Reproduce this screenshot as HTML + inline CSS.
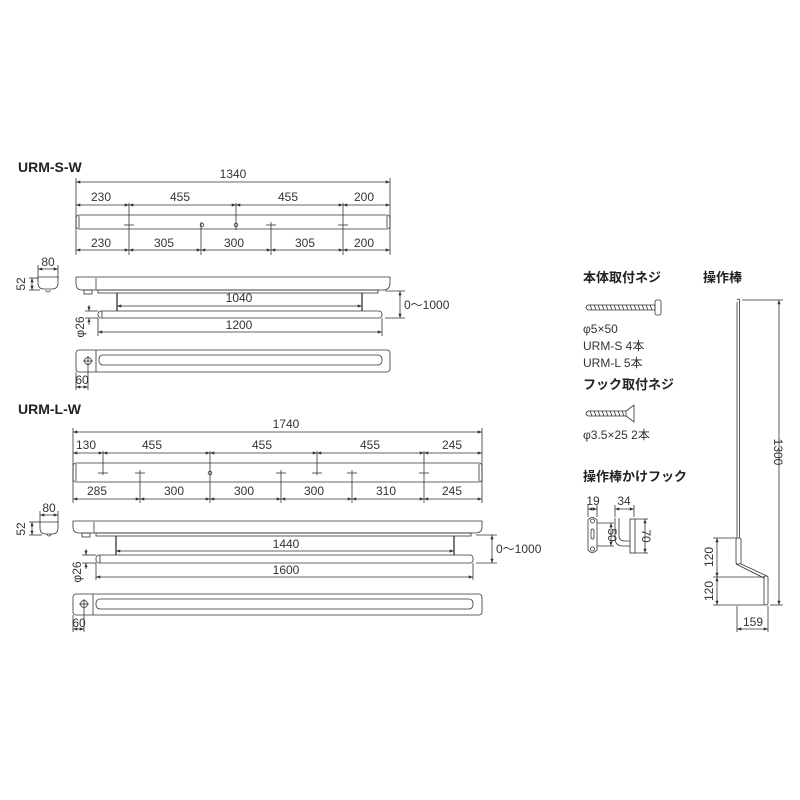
<!DOCTYPE html>
<html><head><meta charset="utf-8"><style>
html,body{margin:0;padding:0;background:#fff}
svg{display:block}
text{font-family:"Liberation Sans","Noto Sans CJK JP",sans-serif;fill:#333;font-size:12px}
.t{font-size:14px;font-weight:bold;fill:#222}
.j{font-size:13px;font-weight:bold;fill:#222}
</style></head><body>
<svg width="800" height="800" viewBox="0 0 800 800" xmlns="http://www.w3.org/2000/svg">
<defs>
<marker id="a" viewBox="0 0 8 6" refX="8" refY="3" markerWidth="6" markerHeight="4" orient="auto-start-reverse"><path d="M0,0L8,3L0,6z" fill="#333"/></marker>
</defs>
<g stroke="#333" stroke-width="0.8" fill="none">
<line x1="76" y1="182" x2="390" y2="182" marker-start="url(#a)" marker-end="url(#a)"/>
<line x1="76" y1="178" x2="76" y2="255"/><line x1="390" y1="178" x2="390" y2="255"/>
<line x1="76" y1="205" x2="129" y2="205" marker-start="url(#a)" marker-end="url(#a)"/>
<line x1="129" y1="205" x2="236" y2="205" marker-start="url(#a)" marker-end="url(#a)"/>
<line x1="236" y1="205" x2="343" y2="205" marker-start="url(#a)" marker-end="url(#a)"/>
<line x1="343" y1="205" x2="390" y2="205" marker-start="url(#a)" marker-end="url(#a)"/>
<line x1="129" y1="203" x2="129" y2="255"/><line x1="236" y1="203" x2="236" y2="230"/><line x1="343" y1="203" x2="343" y2="255"/>
<line x1="201" y1="222" x2="201" y2="255"/><line x1="271" y1="222" x2="271" y2="255"/>
<rect x="76" y="215" width="314" height="14" rx="3"/>
<line x1="79" y1="216" x2="79" y2="228"/><line x1="387" y1="216" x2="387" y2="228"/>
<line x1="124" y1="225" x2="134" y2="225"/><line x1="266" y1="225" x2="276" y2="225"/><line x1="338" y1="225" x2="348" y2="225"/>
<circle cx="202" cy="225" r="1.8"/><circle cx="236" cy="225" r="1.8"/>
<line x1="76" y1="250" x2="129" y2="250" marker-start="url(#a)" marker-end="url(#a)"/>
<line x1="129" y1="250" x2="201" y2="250" marker-start="url(#a)" marker-end="url(#a)"/>
<line x1="201" y1="250" x2="271" y2="250" marker-start="url(#a)" marker-end="url(#a)"/>
<line x1="271" y1="250" x2="343" y2="250" marker-start="url(#a)" marker-end="url(#a)"/>
<line x1="343" y1="250" x2="390" y2="250" marker-start="url(#a)" marker-end="url(#a)"/>
<line x1="38" y1="269" x2="58" y2="269" marker-start="url(#a)" marker-end="url(#a)"/>
<line x1="38" y1="265" x2="38" y2="279"/><line x1="58" y1="265" x2="58" y2="279"/>
<path d="M38,277 H58 V283 Q58,289 52,289 H44 Q38,289 38,283 Z"/>
<line x1="29" y1="278" x2="38" y2="278"/><line x1="29" y1="290" x2="40" y2="290"/>
<line x1="32" y1="278" x2="32" y2="290" marker-start="url(#a)" marker-end="url(#a)"/>
<path d="M46,290 a2,2 0 0 0 4,0"/>
<path d="M76,277 H390 V283 Q390,290 383,290 H82 Q76,290 76,283 Z"/>
<line x1="96" y1="278" x2="96" y2="290"/>
<rect x="84" y="290" width="8" height="4"/>
<rect x="98" y="290" width="280" height="3"/>
<line x1="117" y1="293" x2="117" y2="311" stroke-width="1.3"/><line x1="362" y1="293" x2="362" y2="311" stroke-width="1.3"/>
<line x1="117" y1="306" x2="362" y2="306" marker-start="url(#a)" marker-end="url(#a)"/>
<rect x="98" y="311" width="284" height="7" rx="3"/>
<line x1="102" y1="311" x2="102" y2="318"/>
<line x1="98" y1="318" x2="98" y2="336"/><line x1="382" y1="318" x2="382" y2="336"/>
<line x1="98" y1="332" x2="382" y2="332" marker-start="url(#a)" marker-end="url(#a)"/>
<line x1="385" y1="291" x2="405" y2="291"/><line x1="385" y1="318" x2="405" y2="318"/>
<line x1="400" y1="291" x2="400" y2="318" marker-start="url(#a)" marker-end="url(#a)"/>
<line x1="85" y1="311" x2="98" y2="311"/><line x1="85" y1="318" x2="98" y2="318"/>
<line x1="89" y1="305" x2="89" y2="311" marker-end="url(#a)"/><line x1="89" y1="325" x2="89" y2="318" marker-end="url(#a)"/>
<rect x="76" y="350" width="314" height="22" rx="3"/>
<line x1="96" y1="350" x2="96" y2="372"/>
<circle cx="88" cy="361" r="3.5"/><line x1="83" y1="361" x2="93" y2="361"/><line x1="88" y1="356" x2="88" y2="366"/>
<rect x="99" y="355" width="283" height="10" rx="4"/>
<line x1="76" y1="372" x2="76" y2="390"/><line x1="88" y1="365" x2="88" y2="390"/>
<line x1="76" y1="387" x2="88" y2="387" marker-start="url(#a)" marker-end="url(#a)"/>

<line x1="73" y1="432" x2="482" y2="432" marker-start="url(#a)" marker-end="url(#a)"/>
<line x1="73" y1="428" x2="73" y2="503"/><line x1="482" y1="428" x2="482" y2="503"/>
<line x1="73" y1="453" x2="103" y2="453" marker-start="url(#a)" marker-end="url(#a)"/>
<line x1="103" y1="453" x2="210" y2="453" marker-start="url(#a)" marker-end="url(#a)"/>
<line x1="210" y1="453" x2="317" y2="453" marker-start="url(#a)" marker-end="url(#a)"/>
<line x1="317" y1="453" x2="424" y2="453" marker-start="url(#a)" marker-end="url(#a)"/>
<line x1="424" y1="453" x2="482" y2="453" marker-start="url(#a)" marker-end="url(#a)"/>
<line x1="103" y1="451" x2="103" y2="475"/><line x1="210" y1="451" x2="210" y2="503"/><line x1="317" y1="451" x2="317" y2="475"/><line x1="424" y1="451" x2="424" y2="503"/>
<line x1="140" y1="470" x2="140" y2="503"/><line x1="281" y1="470" x2="281" y2="503"/><line x1="352" y1="470" x2="352" y2="503"/>
<rect x="73" y="463" width="409" height="19" rx="3"/>
<line x1="76" y1="464" x2="76" y2="481"/><line x1="479" y1="464" x2="479" y2="481"/>
<line x1="98" y1="473" x2="108" y2="473"/><line x1="135" y1="473" x2="145" y2="473"/><line x1="276" y1="473" x2="286" y2="473"/><line x1="312" y1="473" x2="322" y2="473"/><line x1="347" y1="473" x2="357" y2="473"/><line x1="419" y1="473" x2="429" y2="473"/>
<circle cx="210" cy="473" r="1.8"/>
<line x1="73" y1="499" x2="140" y2="499" marker-start="url(#a)" marker-end="url(#a)"/>
<line x1="140" y1="499" x2="210" y2="499" marker-start="url(#a)" marker-end="url(#a)"/>
<line x1="210" y1="499" x2="281" y2="499" marker-start="url(#a)" marker-end="url(#a)"/>
<line x1="281" y1="499" x2="352" y2="499" marker-start="url(#a)" marker-end="url(#a)"/>
<line x1="352" y1="499" x2="424" y2="499" marker-start="url(#a)" marker-end="url(#a)"/>
<line x1="424" y1="499" x2="482" y2="499" marker-start="url(#a)" marker-end="url(#a)"/>
<line x1="40" y1="515" x2="58" y2="515" marker-start="url(#a)" marker-end="url(#a)"/>
<line x1="40" y1="511" x2="40" y2="523"/><line x1="58" y1="511" x2="58" y2="523"/>
<path d="M40,522 H58 V528 Q58,534 52,534 H46 Q40,534 40,528 Z"/>
<line x1="29" y1="522" x2="40" y2="522"/><line x1="29" y1="535" x2="42" y2="535"/>
<line x1="32" y1="522" x2="32" y2="535" marker-start="url(#a)" marker-end="url(#a)"/>
<path d="M47,534 a2,2 0 0 0 4,0"/>
<path d="M73,521 H482 V527 Q482,533 475,533 H79 Q73,533 73,527 Z"/>
<line x1="94" y1="522" x2="94" y2="533"/>
<rect x="82" y="533" width="8" height="4"/>
<rect x="96" y="533" width="375" height="3"/>
<line x1="116" y1="536" x2="116" y2="555" stroke-width="1.3"/><line x1="454" y1="536" x2="454" y2="555" stroke-width="1.3"/>
<line x1="116" y1="551" x2="454" y2="551" marker-start="url(#a)" marker-end="url(#a)"/>
<rect x="96" y="555" width="377" height="8" rx="3"/>
<line x1="100" y1="555" x2="100" y2="563"/>
<line x1="96" y1="563" x2="96" y2="580"/><line x1="473" y1="563" x2="473" y2="580"/>
<line x1="96" y1="577" x2="473" y2="577" marker-start="url(#a)" marker-end="url(#a)"/>
<line x1="476" y1="535" x2="497" y2="535"/><line x1="476" y1="563" x2="497" y2="563"/>
<line x1="492" y1="535" x2="492" y2="563" marker-start="url(#a)" marker-end="url(#a)"/>
<line x1="82" y1="555" x2="96" y2="555"/><line x1="82" y1="563" x2="96" y2="563"/>
<line x1="86" y1="549" x2="86" y2="555" marker-end="url(#a)"/><line x1="86" y1="569" x2="86" y2="563" marker-end="url(#a)"/>
<rect x="73" y="594" width="409" height="21" rx="3"/>
<line x1="93" y1="594" x2="93" y2="615"/>
<circle cx="84" cy="604" r="3.5"/><line x1="79" y1="604" x2="89" y2="604"/><line x1="84" y1="599" x2="84" y2="609"/>
<rect x="96" y="599" width="377" height="10" rx="4"/>
<line x1="73" y1="615" x2="73" y2="632"/><line x1="84" y1="608" x2="84" y2="632"/>
<line x1="73" y1="629" x2="84" y2="629" marker-start="url(#a)" marker-end="url(#a)"/>

<path d="M588,305 H655 V310 H588 Q584,307.5 588,305Z"/>
<path d="M590,305 l2,5 M594,305 l2,5 M598,305 l2,5 M602,305 l2,5 M606,305 l2,5 M610,305 l2,5 M614,305 l2,5 M618,305 l2,5 M622,305 l2,5 M626,305 l2,5 M630,305 l2,5 M634,305 l2,5 M638,305 l2,5 M642,305 l2,5 M646,305 l2,5 M650,305 l2,5"/>
<rect x="655" y="300" width="6" height="15" rx="2"/>
<path d="M588,411 H626 V416 H588 Q584,413.5 588,411Z"/>
<path d="M590,411 l2,5 M594,411 l2,5 M598,411 l2,5 M602,411 l2,5 M606,411 l2,5 M610,411 l2,5 M614,411 l2,5 M618,411 l2,5 M622,411 l2,5"/>
<path d="M626,411 L634,405 V422 L626,416"/>

<line x1="588" y1="505" x2="588" y2="517"/><line x1="597" y1="505" x2="597" y2="517"/>
<line x1="588" y1="509" x2="597" y2="509" marker-start="url(#a)" marker-end="url(#a)"/>
<path d="M588,520 Q592,515 597,520 V550 Q592,555 588,550 Z"/>
<circle cx="592.5" cy="521" r="2"/><circle cx="592.5" cy="549" r="2"/>
<rect x="591" y="529" width="3" height="10" rx="1.5"/>
<line x1="597" y1="523" x2="614" y2="523"/><line x1="597" y1="546" x2="614" y2="546"/>
<line x1="611" y1="523" x2="611" y2="546" marker-start="url(#a)" marker-end="url(#a)"/>
<line x1="615" y1="505" x2="615" y2="517"/><line x1="634" y1="505" x2="634" y2="517"/>
<line x1="615" y1="509" x2="634" y2="509" marker-start="url(#a)" marker-end="url(#a)"/>
<rect x="630" y="519" width="5" height="34"/>
<path d="M615,518 V538 Q615,546 623,546 H630 M619,518 V536 Q619,541 625,541 H630"/>
<line x1="635" y1="519" x2="648" y2="519"/><line x1="635" y1="553" x2="648" y2="553"/>
<line x1="645" y1="519" x2="645" y2="553" marker-start="url(#a)" marker-end="url(#a)"/>

<path d="M737,300 a1.5,1.5 0 1 1 2,2"/>
<line x1="737" y1="302" x2="737" y2="538"/><line x1="739.5" y1="302" x2="739.5" y2="538"/>
<rect x="736" y="538" width="5" height="26" rx="1.5"/>
<path d="M736,564 L764,578 M741,564 L767,576"/>
<rect x="764" y="576" width="4" height="29" rx="1.5"/>
<line x1="742" y1="300" x2="783" y2="300"/><line x1="770" y1="605" x2="783" y2="605"/>
<line x1="779" y1="300" x2="779" y2="605" marker-start="url(#a)" marker-end="url(#a)"/>
<line x1="713" y1="538" x2="736" y2="538"/><line x1="713" y1="577" x2="764" y2="577"/><line x1="713" y1="605" x2="764" y2="605"/>
<line x1="717" y1="538" x2="717" y2="577" marker-start="url(#a)" marker-end="url(#a)"/>
<line x1="717" y1="577" x2="717" y2="605" marker-start="url(#a)" marker-end="url(#a)"/>
<line x1="737" y1="606" x2="737" y2="632"/><line x1="768" y1="606" x2="768" y2="632"/>
<line x1="737" y1="629" x2="768" y2="629" marker-start="url(#a)" marker-end="url(#a)"/>
</g>

<text class="t" x="18" y="172">URM-S-W</text>
<text x="233" y="178" text-anchor="middle">1340</text>
<text x="101" y="201" text-anchor="middle">230</text><text x="180" y="201" text-anchor="middle">455</text><text x="288" y="201" text-anchor="middle">455</text><text x="364" y="201" text-anchor="middle">200</text>
<text x="101" y="247" text-anchor="middle">230</text><text x="164" y="247" text-anchor="middle">305</text><text x="234" y="247" text-anchor="middle">300</text><text x="305" y="247" text-anchor="middle">305</text><text x="364" y="247" text-anchor="middle">200</text>
<text x="48" y="266" text-anchor="middle">80</text>
<text x="0" y="0" transform="translate(25,284) rotate(-90)" text-anchor="middle">52</text>
<text x="239" y="302" text-anchor="middle">1040</text>
<text x="239" y="329" text-anchor="middle">1200</text>
<text x="404" y="309">0～1000</text>
<text x="0" y="0" transform="translate(84,327) rotate(-90)" text-anchor="middle">φ26</text>
<text x="82" y="384" text-anchor="middle">60</text>

<text class="t" x="18" y="414">URM-L-W</text>
<text x="286" y="428" text-anchor="middle">1740</text>
<text x="86" y="449" text-anchor="middle">130</text><text x="152" y="449" text-anchor="middle">455</text><text x="262" y="449" text-anchor="middle">455</text><text x="370" y="449" text-anchor="middle">455</text><text x="452" y="449" text-anchor="middle">245</text>
<text x="97" y="495" text-anchor="middle">285</text><text x="174" y="495" text-anchor="middle">300</text><text x="244" y="495" text-anchor="middle">300</text><text x="314" y="495" text-anchor="middle">300</text><text x="386" y="495" text-anchor="middle">310</text><text x="452" y="495" text-anchor="middle">245</text>
<text x="49" y="512" text-anchor="middle">80</text>
<text x="0" y="0" transform="translate(25,529) rotate(-90)" text-anchor="middle">52</text>
<text x="286" y="548" text-anchor="middle">1440</text>
<text x="286" y="574" text-anchor="middle">1600</text>
<text x="496" y="553">0～1000</text>
<text x="0" y="0" transform="translate(81,572) rotate(-90)" text-anchor="middle">φ26</text>
<text x="79" y="627" text-anchor="middle">60</text>

<text class="j" x="583" y="282">本体取付ネジ</text>
<text class="j" x="703" y="282">操作棒</text>
<text x="583" y="333">φ5×50</text>
<text x="583" y="350">URM-S  4本</text>
<text x="583" y="367">URM-L  5本</text>
<text class="j" x="583" y="389">フック取付ネジ</text>
<text x="583" y="439">φ3.5×25  2本</text>
<text class="j" x="583" y="481">操作棒かけフック</text>
<text x="593" y="505" text-anchor="middle">19</text>
<text x="624" y="505" text-anchor="middle">34</text>
<text x="0" y="0" transform="translate(608,535) rotate(90)" text-anchor="middle">50</text>
<text x="0" y="0" transform="translate(642,536) rotate(90)" text-anchor="middle">70</text>
<text x="0" y="0" transform="translate(774,452) rotate(90)" text-anchor="middle">1300</text>
<text x="0" y="0" transform="translate(713,557) rotate(-90)" text-anchor="middle">120</text>
<text x="0" y="0" transform="translate(713,591) rotate(-90)" text-anchor="middle">120</text>
<text x="753" y="626" text-anchor="middle">159</text>
</svg>
</body></html>
